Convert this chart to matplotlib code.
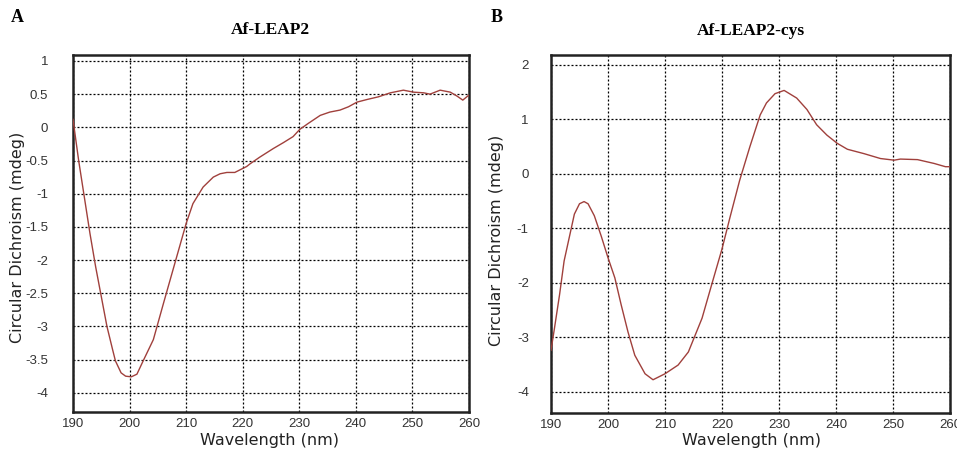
import matplotlib
matplotlib.use("Agg")
import matplotlib.pyplot as plt

# Panel A: Af-LEAP2
wl_a = [190, 191, 192, 193, 194, 195, 196, 197, 197.5, 198.5, 199.3, 200.3, 201.3, 202.4,
        204.2, 206, 208, 210, 211.2, 213, 214.8, 216, 217.2, 218.6, 220.7, 221.3, 223.0,
        225.4, 227.2, 228.9, 230.1, 231.6, 233.7, 235.4, 237.2, 238.7, 240.2, 242, 244,
        246.1, 248.4, 250.2, 252, 253.1, 254.9, 256.7, 257.9, 258.9, 259.9]
cd_a = [0.12, -0.5, -1.05, -1.6, -2.1, -2.55, -3.0, -3.35, -3.52, -3.7, -3.75, -3.76, -3.72, -3.52,
        -3.2, -2.65, -2.05, -1.45, -1.15, -0.9, -0.75, -0.70, -0.68, -0.68, -0.59, -0.55, -0.45,
        -0.32, -0.23, -0.14, -0.03, 0.06, 0.18, 0.23, 0.26, 0.31, 0.38, 0.42, 0.46,
        0.52, 0.56, 0.53, 0.52, 0.50, 0.56, 0.53, 0.47, 0.41, 0.48]

# Panel B: Af-LEAP2-cys
wl_b = [190, 190.6, 191.5, 192.3, 193.2, 194.1, 195, 195.8, 196.5, 197.6, 198.8, 200, 201.2,
        202.3, 203.5, 204.7, 206.5, 207.9, 210, 212.3, 214.1, 216.5, 218.2, 220, 221.4,
        223.1, 224.9, 226.7, 227.8, 229.3, 230.9, 233.1, 234.9, 236.6, 238.4, 240.2, 242,
        244.9, 247.8, 250.2, 251.3, 254.3, 257.2, 259.2, 260]
cd_b = [-3.24, -2.84, -2.22, -1.60, -1.17, -0.74, -0.55, -0.51, -0.55, -0.77, -1.14, -1.54, -1.91,
        -2.40, -2.90, -3.33, -3.67, -3.78, -3.67, -3.51, -3.27, -2.65, -2.03, -1.38, -0.80,
        -0.12, 0.50, 1.08, 1.30, 1.47, 1.53, 1.39, 1.18, 0.90, 0.71, 0.56, 0.45,
        0.37, 0.28, 0.25, 0.27, 0.26, 0.19, 0.13, 0.13]

xticks = [190, 200, 210, 220, 230, 240, 250, 260]
yticks_a = [1, 0.5, 0, -0.5, -1, -1.5, -2, -2.5, -3, -3.5, -4]
yticks_b = [2, 1, 0, -1, -2, -3, -4]

W, H = 957, 454
fig = plt.figure(figsize=(W / 100, H / 100), dpi=100)

line_color = "#a0403c"
tick_font = dict(family=["Liberation Sans Narrow", "Liberation Sans", "DejaVu Sans"], size=9.5)

def fmt(v):
    return "%g" % v

def setup(ax, yticks, ylim, ypad):
    ax.set_xlim(190, 260)
    ax.set_ylim(*ylim)
    ax.set_xticks(xticks)
    ax.set_yticks(yticks)
    ax.set_xticklabels([fmt(v) for v in xticks], **tick_font)
    ax.set_yticklabels([fmt(v) for v in yticks], **tick_font)
    ax.tick_params(length=0, pad=4, colors="#333333")
    ax.tick_params(axis="y", pad=ypad)
    ax.grid(True, color="black", linestyle=(0, (1.6, 1.6)), linewidth=0.9)
    for s in ax.spines.values():
        s.set_linewidth(1.8)
        s.set_color("#222222")

ax1 = fig.add_axes([73 / W, (H - 412) / H, 396 / W, 357 / H])
ax1.plot(wl_a, cd_a, color=line_color, lw=1.0, zorder=3)
setup(ax1, yticks_a, (-4.29, 1.09), 18)

ax2 = fig.add_axes([551 / W, (H - 413) / H, 399 / W, 358 / H])
ax2.plot(wl_b, cd_b, color=line_color, lw=1.0, zorder=3)
setup(ax2, yticks_b, (-4.39, 2.18), 16)

serif = ["Liberation Serif", "DejaVu Serif"]
fig.text(270 / W, 1 - 30 / H, "Af-LEAP2", ha="center", va="center",
         family=serif, weight="bold", size=12.5)
fig.text(751 / W, 1 - 31 / H, "Af-LEAP2-cys", ha="center", va="center",
         family=serif, weight="bold", size=12.5)
fig.text(17 / W, 1 - 17 / H, "A", ha="center", va="center", family=serif, weight="bold", size=13)
fig.text(497 / W, 1 - 17 / H, "B", ha="center", va="center", family=serif, weight="bold", size=13)

lab_font = dict(family=["DejaVu Sans"], size=11.5, color="#222222")
fig.text(270 / W, 1 - 440 / H, "Wavelength (nm)", ha="center", va="center", **lab_font)
fig.text(751 / W, 1 - 440 / H, "Wavelength (nm)", ha="center", va="center", **lab_font)
fig.text(18 / W, 1 - 237 / H, "Circular Dichroism (mdeg)", ha="center", va="center",
         rotation=90, **lab_font)
fig.text(497 / W, 1 - 240 / H, "Circular Dichroism (mdeg)", ha="center", va="center",
         rotation=90, **lab_font)

fig.savefig("out.png", dpi=100)
